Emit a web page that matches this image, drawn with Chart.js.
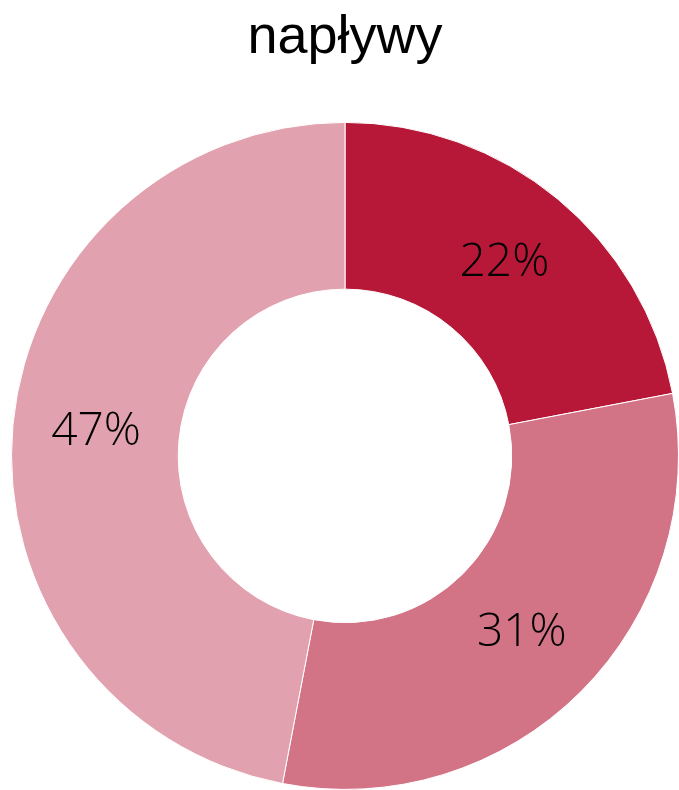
<!DOCTYPE html>
<html>
<head>
<meta charset="utf-8">
<script src="https://cdn.jsdelivr.net/npm/chart.js@4/dist/chart.umd.min.js"></script>
<style>
  html, body { margin: 0; padding: 0; background: #fff; }
  #wrap { width: 679px; height: 790px; position: relative; }
</style>
</head>
<body>
<div id="wrap"><canvas id="donut"></canvas></div>
<script>
var labels = ['A', 'B', 'C'];
var values = [22, 31, 47];
var colors = ['#B71838', '#D27386', '#E2A1AE'];

// draw percentages at the centre of each arc
var arcLabels = {
  id: 'arcLabels',
  afterDatasetsDraw: function(chart) {
    var ctx = chart.ctx;
    var meta = chart.getDatasetMeta(0);
    ctx.save();
    ctx.font = '300 46px "Open Sans", sans-serif';
    ctx.fillStyle = '#000';
    ctx.textAlign = 'center';
    ctx.textBaseline = 'middle';
    meta.data.forEach(function(arc, i) {
      var p = arc.tooltipPosition();
      ctx.fillText(values[i] + '%', p.x, p.y);
    });
    ctx.restore();
  }
};

var ctx = document.getElementById('donut').getContext('2d');
var myDonut = new Chart(ctx, {
  type: 'doughnut',
  data: {
    labels: labels,
    datasets: [{
      data: values,
      backgroundColor: colors,
      borderColor: '#fff',
      borderWidth: 1
    }]
  },
  options: {
    responsive: true,
    maintainAspectRatio: false,
    animation: false,
    cutout: '50%',
    layout: { padding: { left: 11, right: 0, top: 0, bottom: 0 } },
    plugins: {
      legend: { display: false },
      tooltip: { enabled: false },
      title: {
        display: true,
        text: 'napływy',
        color: '#000',
        font: { family: '"Liberation Sans", Arial, sans-serif', size: 54, weight: 'normal', lineHeight: 1.2 },
        padding: { top: 6, bottom: 51 }
      }
    }
  },
  plugins: [arcLabels]
});
</script>
</body>
</html>
